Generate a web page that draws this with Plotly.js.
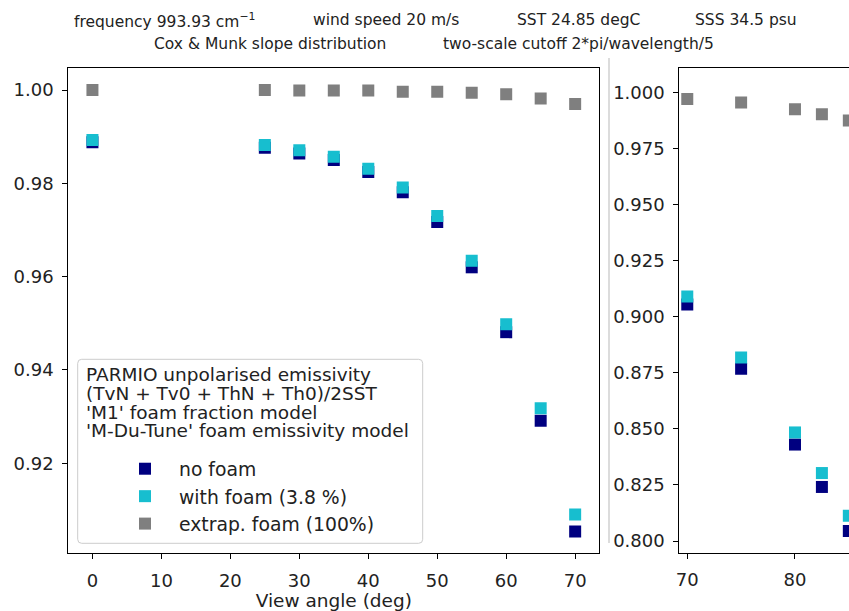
<!DOCTYPE html>
<html>
<head>
<meta charset="utf-8">
<script src="https://cdn.plot.ly/plotly-3.0.1.min.js"></script>
<style>
html, body { margin: 0; padding: 0; overflow: hidden; background: #fff; }
#chart { width: 870px; height: 611px; }
</style>
</head>
<body>
<div id="chart"></div>
<script>
// ---- data ----
var viewAngle = [0, 25, 30, 35, 40, 45, 50, 55, 60, 65, 70, 75, 80, 82.5, 85];
var noFoam    = [0.9888, 0.9876, 0.9864, 0.9850, 0.9824, 0.9781, 0.9717, 0.9620, 0.9481, 0.9291, 0.9054, 0.8768, 0.8430, 0.8241, 0.8045];
var withFoam  = [0.9893, 0.9882, 0.9871, 0.9857, 0.9831, 0.9791, 0.9730, 0.9634, 0.9498, 0.9318, 0.9090, 0.8818, 0.8484, 0.8303, 0.8113];
var extrapFoam= [1.0000, 1.0000, 0.9999, 0.9999, 0.9999, 0.9996, 0.9996, 0.9994, 0.9991, 0.9982, 0.9970, 0.9955, 0.9924, 0.9902, 0.9874];
var seriesNames = ['no foam', 'with foam (3.8 %)', 'extrap. foam (100%)'];
var legendHeader = ["PARMIO unpolarised emissivity", "(TvN + Tv0 + ThN + Th0)/2SST",
                    "'M1' foam fraction model", "'M-Du-Tune' foam emissivity model"];
var infoLine1 = ["frequency 993.93 cm<sup>\u22121</sup>", "wind speed 20 m/s", "SST 24.85 degC", "SSS 34.5 psu"];
var infoLine2 = ["Cox & Munk slope distribution", "two-scale cutoff 2*pi/wavelength/5"];

// ---- layout helpers (pixel -> paper) ----
var W = 870, H = 611;
function px(x) { return x / W; }
function py(y) { return 1 - y / H; }

var FONT = 'DejaVu Sans, Liberation Sans, sans-serif';
var colors = ['#000080', '#17becf', '#7f7f7f'];
var series = [noFoam, withFoam, extrapFoam];

var traces = [];
[['x', 'y'], ['x2', 'y2']].forEach(function (ax, k) {
  series.forEach(function (vals, i) {
    traces.push({
      type: 'scatter', mode: 'markers',
      x: viewAngle, y: vals,
      xaxis: ax[0], yaxis: ax[1],
      name: seriesNames[i],
      showlegend: k === 0,
      marker: { symbol: 'square', size: 12, color: colors[i], line: { width: 0 } },
      hoverinfo: 'x+y+name'
    });
  });
});

var axisCommon = {
  showgrid: false, zeroline: false,
  showline: true, mirror: true, linecolor: '#000', linewidth: 1,
  ticks: 'outside', ticklen: 5, tickwidth: 1, tickcolor: '#000',
  tickfont: { family: FONT, size: 18, color: '#222' },
  automargin: false
};

var annotations = [];
var l1x = [72, 311, 514.5, 692.5];
infoLine1.forEach(function (t, i) {
  annotations.push({ xref: 'paper', yref: 'paper', x: px(l1x[i]), y: py(20), xanchor: 'left', yanchor: 'middle',
    text: t, showarrow: false, font: { family: FONT, size: 15.5, color: '#222' } });
});
var l2x = [152, 441];
infoLine2.forEach(function (t, i) {
  annotations.push({ xref: 'paper', yref: 'paper', x: px(l2x[i]), y: py(44), xanchor: 'left', yanchor: 'middle',
    text: t, showarrow: false, font: { family: FONT, size: 15.5, color: '#222' } });
});
var hy = [374, 393.3, 412, 431];
legendHeader.forEach(function (t, i) {
  annotations.push({ xref: 'paper', yref: 'paper', x: px(84), y: py(hy[i]), xanchor: 'left', yanchor: 'middle',
    text: t, showarrow: false, font: { family: FONT, size: 18.5, color: '#222' } });
});

// rounded legend box
var bx0 = 77.7, bx1 = 422.7, by0 = 359.3, by1 = 543.3, r = 4;
function P(x, y) { return px(x) + ',' + py(y); }
var boxPath = 'M' + P(bx0 + r, by0) + ' L' + P(bx1 - r, by0) + ' Q' + P(bx1, by0) + ' ' + P(bx1, by0 + r) +
  ' L' + P(bx1, by1 - r) + ' Q' + P(bx1, by1) + ' ' + P(bx1 - r, by1) +
  ' L' + P(bx0 + r, by1) + ' Q' + P(bx0, by1) + ' ' + P(bx0, by1 - r) +
  ' L' + P(bx0, by0 + r) + ' Q' + P(bx0, by0) + ' ' + P(bx0 + r, by0) + ' Z';

var layout = {
  width: W, height: H,
  margin: { l: 0, r: 0, t: 0, b: 0, pad: 0 },
  paper_bgcolor: '#fff', plot_bgcolor: '#fff',
  font: { family: FONT, size: 18.5, color: '#222' },
  xaxis: Object.assign({}, axisCommon, {
    domain: [px(68.3), px(599.3)], anchor: 'y',
    range: [-3.5, 73.5], tickvals: [0, 10, 20, 30, 40, 50, 60, 70],
    ticklabelstandoff: 6,
    title: { text: 'View angle (deg)', font: { family: FONT, size: 18.5, color: '#222' }, standoff: 5 }
  }),
  yaxis: Object.assign({}, axisCommon, {
    domain: [py(553.3), py(68.3)], anchor: 'x',
    range: [0.90071, 1.00465], tickvals: [0.92, 0.94, 0.96, 0.98, 1.00], tickformat: '.2f',
    ticklabelstandoff: 5
  }),
  xaxis2: Object.assign({}, axisCommon, {
    domain: [px(679.3), px(856.8)], anchor: 'y2',
    range: [69.26, 85.74], tickvals: [70, 80],
    ticklabelstandoff: 6
  }),
  yaxis2: Object.assign({}, axisCommon, {
    domain: [py(552.7), py(68.3)], anchor: 'x2',
    range: [0.7948, 1.0107], tickvals: [0.800, 0.825, 0.850, 0.875, 0.900, 0.925, 0.950, 0.975, 1.000], tickformat: '.3f',
    ticklabelstandoff: 5
  }),
  showlegend: true,
  legend: {
    x: px(111), y: py(450), xanchor: 'left', yanchor: 'top',
    bgcolor: 'rgba(0,0,0,0)', borderwidth: 0,
    itemwidth: 58, traceorder: 'normal',
    font: { family: FONT, size: 18.8, color: '#222' }
  },
  shapes: [
    { type: 'path', xref: 'paper', yref: 'paper', path: boxPath, layer: 'above',
      fillcolor: 'rgba(255,255,255,0.8)', line: { color: '#cccccc', width: 1 } },
    { type: 'line', xref: 'paper', yref: 'paper', x0: px(609), x1: px(609), y0: py(58), y1: py(543),
      line: { color: '#d0d0d0', width: 1.5 } }
  ],
  annotations: annotations
};

Plotly.newPlot('chart', traces, layout, { displayModeBar: false, responsive: false });
</script>
</body>
</html>
